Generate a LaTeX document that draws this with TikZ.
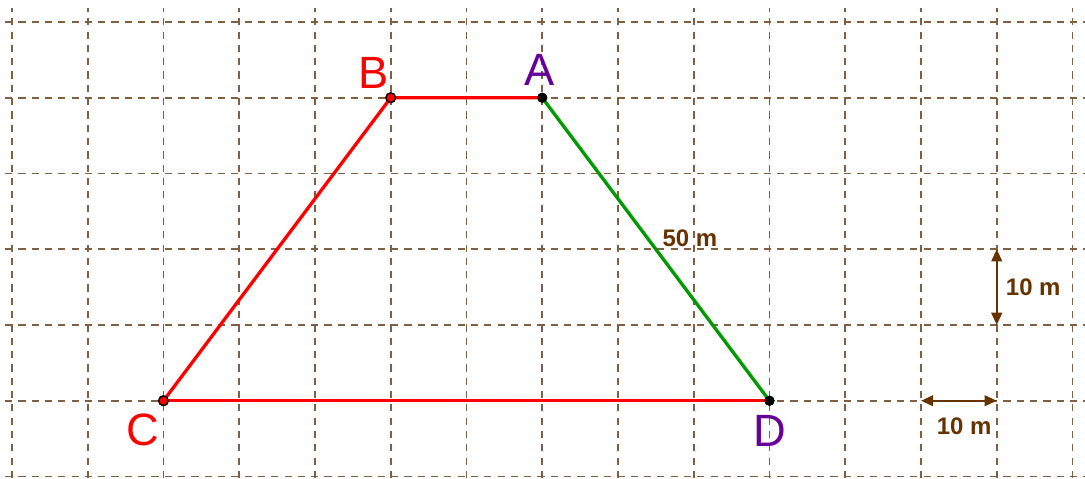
\documentclass[tikz,border=0pt]{standalone}
\usepackage{fontspec}
\setmainfont{Liberation Sans}
\usetikzlibrary{arrows.meta, positioning}

\definecolor{gridbrown}{RGB}{128,96,64}
\definecolor{textbrown}{RGB}{102,51,0}
\definecolor{sidered}{RGB}{255,0,0}
\definecolor{sidegreen}{RGB}{0,153,0}
\definecolor{ptpurple}{RGB}{102,0,153}

\begin{document}
\begin{tikzpicture}[
        gridline/.style={draw=gridbrown, line width=0.7pt, dash pattern=on 2.7pt off 2.3pt},
        redside/.style={draw=sidered, line width=1.25pt},
        greenside/.style={draw=sidegreen, line width=1.25pt},
        redpt/.style={circle, fill=sidered, draw=black, line width=0.5pt, inner sep=0pt, minimum size=3.6pt},
        blackpt/.style={circle, fill=black, inner sep=0pt, minimum size=3.8pt},
        ptlabel/.style={font=\fontsize{17}{17}\selectfont, inner sep=0pt},
        measure/.style={{Triangle[length=4.6pt, width=4pt]}-{Triangle[length=4.6pt, width=4pt]}, draw=textbrown, line width=0.9pt},
        measurelabel/.style={font=\bfseries\fontsize{9}{9}\selectfont, text=textbrown, inner sep=0pt}
    ]
        \useasboundingbox (-0.158,-0.02) rectangle (14.165,6.29);

        % Grid
        \foreach \y in {0,...,6}
            \draw[gridline] (-0.092,\y) -- (14.165,\y);
        \foreach \x in {0,...,14}
            \draw[gridline] (\x,-0.02) -- (\x,6.185);

        % Points
        \node[redpt] (c) at (2,1) {};
        \node[redpt] (b) at (5,5) {};
        \node[blackpt] (a) at (7,5) {};
        \node[blackpt] (d) at (10,1) {};

        % Sides
        \draw[redside] (c.center) -- (b.center) -- (a.center);
        \draw[redside] (c.center) -- (d.center);
        \draw[greenside] (a.center) -- (d.center);
        \node[measurelabel] (lside) at (8.95,3.14) {50 m};

        % Re-draw points on top
        \node[redpt] at (c) {};
        \node[redpt] at (b) {};
        \node[blackpt] at (a) {};
        \node[blackpt] at (d) {};

        % Labels
        \node[ptlabel, text=sidered] (lb) at (4.78,5.33) {B};
        \node[ptlabel, text=ptpurple] (la) at (6.97,5.37) {A};
        \node[ptlabel, text=sidered] (lc) at (1.73,0.61) {C};
        \node[ptlabel, text=ptpurple] (ld) at (10.0,0.6) {D};

        % Scale
        \coordinate (v1) at (13,3);
        \coordinate (v2) at (13,2);
        \coordinate (h1) at (12,1);
        \coordinate (h2) at (13,1);
        \draw[measure] (v1) -- (v2) node[midway, right=3pt, measurelabel] {10 m};
        \draw[measure] (h1) -- (h2) node[midway, below=6pt, xshift=2pt, measurelabel] {10 m};
    \end{tikzpicture}
\end{document}
